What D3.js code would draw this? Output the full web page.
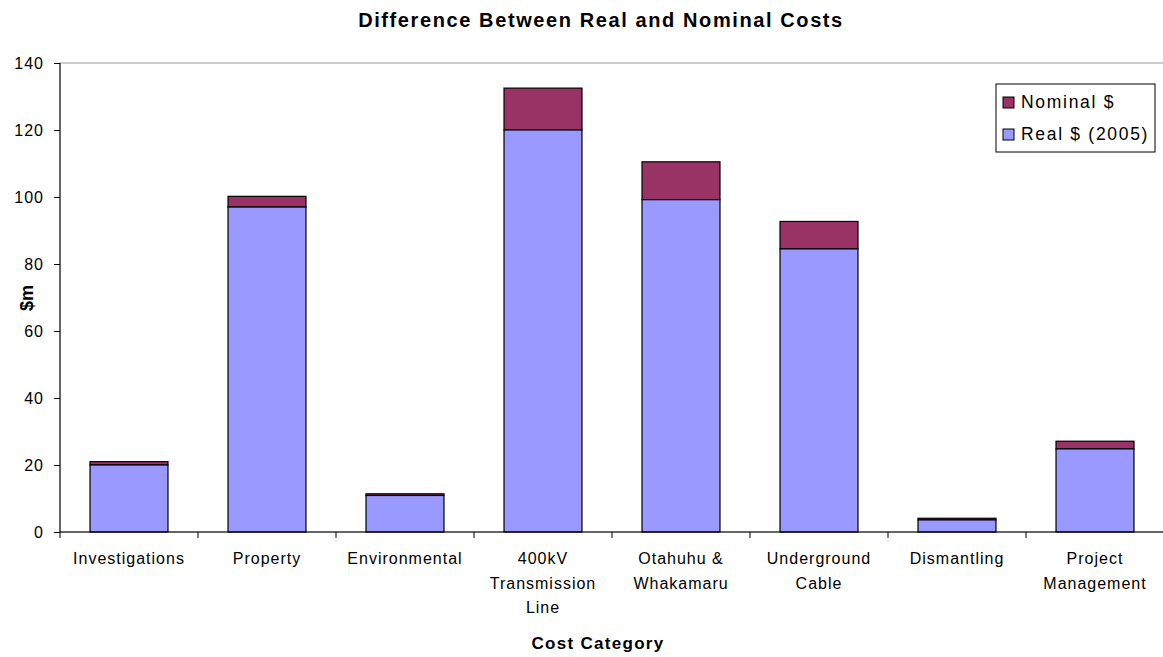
<!DOCTYPE html>
<html>
<head>
<meta charset="utf-8">
<script src="https://cdn.jsdelivr.net/npm/d3@7"></script>
<style>
  html, body { margin: 0; padding: 0; background: #fff; }
  svg { display: block; font-family: "Liberation Sans", Arial, sans-serif; }
</style>
</head>
<body>
<svg id="chart" width="1163" height="657"></svg>
<script>
// Cost categories (multi-line labels split on "|")
const categories = [
  "Investigations", "Property", "Environmental", "400kV|Transmission|Line",
  "Otahuhu &|Whakamaru", "Underground|Cable", "Dismantling", "Project|Management"
];
// Real cost in 2005 dollars ($m)
const realValues = [20, 97, 10.9, 120, 99.2, 84.5, 3.6, 24.8];
// Nominal cost totals ($m); the stacked top segment is nominal minus real
const nominalValues = [21, 100.2, 11.4, 132.5, 110.5, 92.7, 4.1, 27.1];
const yTicks = [0, 20, 40, 60, 80, 100, 120, 140];
const seriesNames = ["Nominal $", "Real $ (2005)"];
const colors = { real: "#9999FF", nominal: "#993366" };

const svg = d3.select("#chart");
const W = 1163;
const x0 = 60, x1 = W + 1;
const yTop = 63, yBottom = 532;

const x = d3.scaleBand().domain(categories).range([x0, x1]).paddingInner(0.435).paddingOuter(0.2175);
const y = d3.scaleLinear().domain([0, 140]).range([yBottom, yTop]);

// Plot area border
svg.append("rect")
  .attr("x", x0).attr("y", yTop).attr("width", x1 - x0).attr("height", yBottom - yTop)
  .attr("fill", "none").attr("stroke", "#999").attr("stroke-width", 1);

// Title
svg.append("text")
  .attr("x", 601).attr("y", 27)
  .attr("text-anchor", "middle")
  .attr("font-size", 20).attr("font-weight", "bold")
  .attr("letter-spacing", 1.6)
  .text("Difference Between Real and Nominal Costs");

// Bars: real segment at the bottom, nominal difference stacked on top
const bars = svg.append("g");
categories.forEach((c, i) => {
  const r = realValues[i], n = nominalValues[i];
  bars.append("rect")
    .attr("x", x(c)).attr("width", x.bandwidth())
    .attr("y", y(n)).attr("height", y(r) - y(n))
    .attr("fill", colors.nominal).attr("stroke", "#000").attr("stroke-width", 1.2);
  bars.append("rect")
    .attr("x", x(c)).attr("width", x.bandwidth())
    .attr("y", y(r)).attr("height", y(0) - y(r))
    .attr("fill", colors.real).attr("stroke", "#000").attr("stroke-width", 1.2);
});

// Y axis
const yAxis = svg.append("g")
  .attr("transform", `translate(${x0},0)`)
  .call(d3.axisLeft(y).tickValues(yTicks).tickSize(6).tickPadding(10));
yAxis.select(".domain").attr("stroke", "#000").attr("d", `M0,${yTop}V${yBottom}`);
yAxis.selectAll(".tick line").attr("stroke", "#000");
yAxis.selectAll(".tick text")
  .attr("font-size", 16).attr("fill", "#000")
  .attr("letter-spacing", 1)
  .attr("font-family", "Liberation Sans, Arial, sans-serif");

// X axis line with ticks at category boundaries
const xAxisG = svg.append("g");
xAxisG.append("line")
  .attr("x1", x0).attr("x2", x1).attr("y1", yBottom).attr("y2", yBottom)
  .attr("stroke", "#000");
const bounds = d3.range(categories.length + 1).map(i => x0 + i * (x1 - x0) / categories.length);
xAxisG.selectAll("line.tk").data(bounds).join("line")
  .attr("class", "tk")
  .attr("x1", d => d).attr("x2", d => d)
  .attr("y1", yBottom).attr("y2", yBottom + 6)
  .attr("stroke", "#000");

// Category labels
categories.forEach(c => {
  const cx = x(c) + x.bandwidth() / 2;
  const lines = c.split("|");
  const t = svg.append("text")
    .attr("text-anchor", "middle")
    .attr("font-size", 16).attr("letter-spacing", 1).attr("fill", "#000");
  lines.forEach((ln, j) => {
    t.append("tspan").attr("x", cx).attr("y", 564 + j * 24.5).text(ln);
  });
});

// Axis titles
svg.append("text")
  .attr("x", 598).attr("y", 649)
  .attr("text-anchor", "middle")
  .attr("font-size", 17).attr("font-weight", "bold")
  .attr("letter-spacing", 1.3)
  .text("Cost Category");
svg.append("text")
  .attr("transform", `translate(33,298) rotate(-90)`)
  .attr("text-anchor", "middle")
  .attr("font-size", 18).attr("font-weight", "bold")
  .text("$m");

// Legend
const lg = svg.append("g");
lg.append("rect")
  .attr("x", 996).attr("y", 84).attr("width", 159).attr("height", 68)
  .attr("fill", "#fff").attr("stroke", "#000").attr("stroke-width", 1);
const legendItems = [
  { name: seriesNames[0], color: colors.nominal },
  { name: seriesNames[1], color: colors.real }
];
legendItems.forEach((d, i) => {
  const yy = 102 + i * 32;
  lg.append("rect")
    .attr("x", 1003).attr("y", yy - 5).attr("width", 11).attr("height", 11)
    .attr("fill", d.color).attr("stroke", "#000").attr("stroke-width", 1);
  lg.append("text")
    .attr("x", 1021).attr("y", yy + 6)
    .attr("font-size", 17.5).attr("letter-spacing", 1.7).attr("fill", "#000")
    .text(d.name);
});
</script>
</body>
</html>
